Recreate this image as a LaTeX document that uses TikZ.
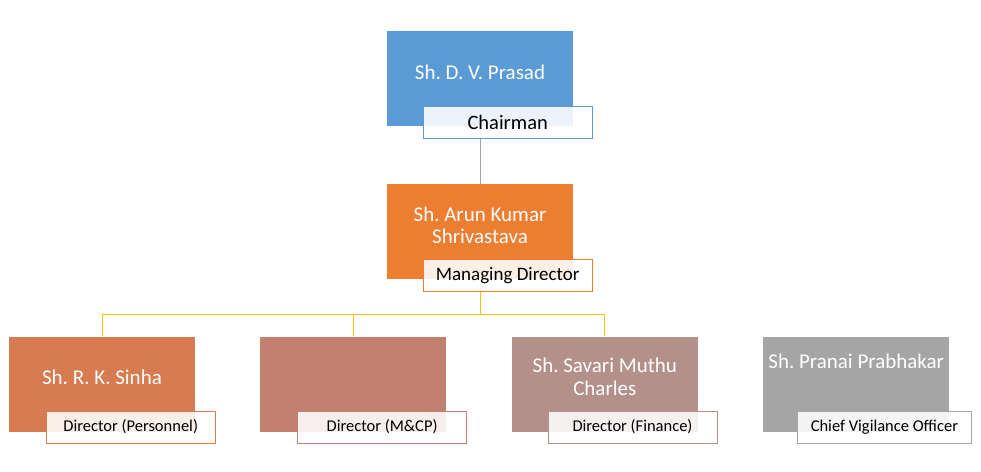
\documentclass[tikz,border=0pt]{standalone}
\usepackage{fontspec}
\setmainfont{Carlito}
\usetikzlibrary{positioning,backgrounds}

\definecolor{chairblue}{HTML}{5B9BD5}
\definecolor{mdorange}{HTML}{ED7D31}
\definecolor{persrust}{HTML}{D77B51}
\definecolor{mcprose}{HTML}{C4806F}
\definecolor{finmauve}{HTML}{B4908A}
\definecolor{cvogrey}{HTML}{A5A5A5}
\definecolor{linkgold}{HTML}{FFC000}

\tikzset{
  person/.style={minimum width=186pt,minimum height=95pt,inner sep=0pt},
  who/.style={text=white,font=\fontsize{21}{22.5}\selectfont,align=center},
  post/.style={draw,fill=white,fill opacity=0.88,text opacity=1,line width=0.8pt,
    minimum width=169pt,minimum height=32pt,inner sep=0pt,anchor=north west},
  bigpost/.style={post,font=\fontsize{19}{22}\selectfont},
  smallpost/.style={post,font=\fontsize{16.5}{20}\selectfont},
  link/.style={line width=1pt}
}

\begin{document}
\frenchspacing
\begin{tikzpicture}[x=1pt,y=-1pt]
  \useasboundingbox (0,0) rectangle (981,471);

  %chairman
  \node[person,fill=chairblue] (chair) at (480,78) {};
  \node[who] (chairname) at ([yshift=6pt]chair.center) {Sh. D. V. Prasad};

  %managing director
  \node[person,fill=mdorange,below=58pt of chair] (md) {};
  \node[who] (mdname) at ([yshift=6pt]md.center) {Sh. Arun Kumar\\Shrivastava};

  %directors
  \node[person,fill=persrust] (pers) at (102,384) {};
  \node[person,fill=mcprose,right=65pt of pers] (mcp) {};
  \node[person,fill=finmauve,right=65pt of mcp] (fin) {};
  \node[person,fill=cvogrey,right=65pt of fin] (cvo) {};
  \node[who] (persname) at ([yshift=7pt]pers.center) {Sh. R. K. Sinha};
  \node[who] (finname) at ([yshift=7pt]fin.center) {Sh. Savari Muthu\\Charles};
  \node[who] (cvoname) at ([yshift=23pt]cvo.center) {Sh. Pranai Prabhakar};

  %posts
  \node[bigpost,draw=chairblue,font=\fontsize{20.5}{22}\selectfont] (chairpost) at ([xshift=36pt,yshift=20pt]chair.south west) {Chairman};
  \node[bigpost,draw=mdorange] (mdpost) at ([xshift=36pt,yshift=20pt]md.south west) {Managing Director};
  \node[smallpost,draw=persrust] (perspost) at ([xshift=37pt,yshift=21pt]pers.south west) {Director (Personnel)};
  \node[smallpost,draw=mcprose] (mcppost) at ([xshift=37pt,yshift=21pt]mcp.south west) {Director (M\&CP)};
  \node[smallpost,draw=finmauve] (finpost) at ([xshift=36pt,yshift=21pt]fin.south west) {Director (Finance)};
  \node[smallpost,draw=cvogrey,minimum width=174pt] (cvopost) at ([xshift=34pt,yshift=21pt]cvo.south west) {Chief Vigilance Officer};

  \begin{pgfonlayer}{background}
    \coordinate (bus) at ([yshift=-35pt]md.south);
    \draw[link,cvogrey] (chair) -- (md);
    \draw[link,linkgold] (md.south) -- (bus) -| (pers.north);
    \draw[link,linkgold] (bus) -| (mcp.north);
    \draw[link,linkgold] (bus) -| (fin.north);
  \end{pgfonlayer}
\end{tikzpicture}
\end{document}
